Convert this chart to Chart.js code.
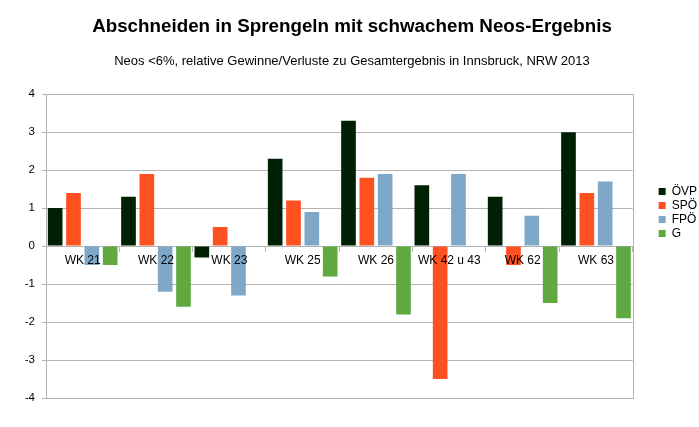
<!DOCTYPE html>
<html lang="de">
<head>
  <meta charset="UTF-8">
  <title>Abschneiden in Sprengeln mit schwachem Neos-Ergebnis</title>
  <script src="https://cdn.jsdelivr.net/npm/chart.js"></script>
  <style>
    html, body { margin: 0; padding: 0; background: #fff; }
    #wrap { width: 699px; height: 427px; }
  </style>
</head>
<body>
  <div id="wrap"><canvas id="neosChart"></canvas></div>

  <script>
    // Sprengel (Wahlkreise)
    const categories = ["WK 21", "WK 22", "WK 23", "WK 25", "WK 26", "WK 42 u 43", "WK 62", "WK 63"];

    // relative Gewinne/Verluste in Prozentpunkten
    const oevp = [1.0, 1.3, -0.3, 2.3, 3.3, 1.6, 1.3, 3.0];
    const spoe = [1.4, 1.9, 0.5, 1.2, 1.8, -3.5, -0.5, 1.4];
    const fpoe = [-0.5, -1.2, -1.3, 0.9, 1.9, 1.9, 0.8, 1.7];
    const gruene = [-0.5, -1.6, null, -0.8, -1.8, null, -1.5, -1.9];

    const yTicks = [-4, -3, -2, -1, 0, 1, 2, 3, 4];

    const gridColor = "#b3b3b3";
    const font = "'Liberation Sans', Arial, sans-serif";

    // Rahmen um die Zeichenfläche
    const frame = {
      id: "frame",
      afterDatasetsDraw(chart) {
        const a = chart.chartArea;
        const ctx = chart.ctx;
        ctx.save();
        ctx.strokeStyle = gridColor;
        ctx.lineWidth = 1;
        ctx.strokeRect(Math.round(a.left) + 0.5, Math.round(a.top) + 0.5,
          Math.round(a.right - a.left), Math.round(a.bottom - a.top));
        ctx.restore();
      }
    };

    const ctx = document.getElementById("neosChart").getContext("2d");
    new Chart(ctx, {
      type: "bar",
      data: {
        labels: categories,
        datasets: [
          { label: "ÖVP", data: oevp, backgroundColor: "#002004" },
          { label: "SPÖ", data: spoe, backgroundColor: "#ff5020" },
          { label: "FPÖ", data: fpoe, backgroundColor: "#7fa8c8" },
          { label: "G", data: gruene, backgroundColor: "#60a840" }
        ]
      },
      options: {
        responsive: true,
        maintainAspectRatio: false,
        animation: false,
        datasets: {
          bar: { barPercentage: 0.8, categoryPercentage: 1.0 }
        },
        layout: { padding: { left: -3, right: -8, top: 8, bottom: 29 } },
        plugins: {
          tooltip: { enabled: false },
          title: {
            display: true,
            text: "Abschneiden in Sprengeln mit schwachem Neos-Ergebnis",
            color: "#000",
            font: { family: font, size: 18.8, weight: "bold" },
            padding: { top: 8, bottom: 15 }
          },
          subtitle: {
            display: true,
            text: "Neos <6%, relative Gewinne/Verluste zu Gesamtergebnis in Innsbruck, NRW 2013",
            color: "#000",
            font: { family: font, size: 13 },
            padding: { bottom: 25 }
          },
          legend: {
            position: "right",
            align: "start",
            title: { display: true, text: " ", padding: { top: 161 } },
            labels: {
              color: "#000",
              font: { family: font, size: 12 },
              boxWidth: 7,
              boxHeight: 7,
              padding: 2
            }
          }
        },
        scales: {
          x: {
            position: { y: 0 },
            grid: { display: true, drawOnChartArea: false, offset: true, tickLength: 5, color: gridColor },
            border: { display: true, color: gridColor },
            // Beschriftung über den Balken zeichnen
            ticks: { z: 1, color: "#000", font: { family: font, size: 12 }, padding: 2 }
          },
          y: {
            min: -4,
            max: 4,
            afterBuildTicks(scale) { scale.ticks = yTicks.map(v => ({ value: v })); },
            afterFit(scale) { scale.width = 49; },
            grid: { color: gridColor, tickLength: 4 },
            border: { color: gridColor },
            ticks: { color: "#000", font: { family: font, size: 11.5 }, padding: 7 }
          },
          // leerer Abstand zwischen Zeichenfläche und Legende
          gap: {
            type: "linear",
            position: "right",
            display: true,
            grid: { display: false },
            border: { display: false },
            ticks: { display: false },
            afterFit(scale) { scale.width = 24; }
          }
        }
      },
      plugins: [frame]
    });
  </script>
</body>
</html>
